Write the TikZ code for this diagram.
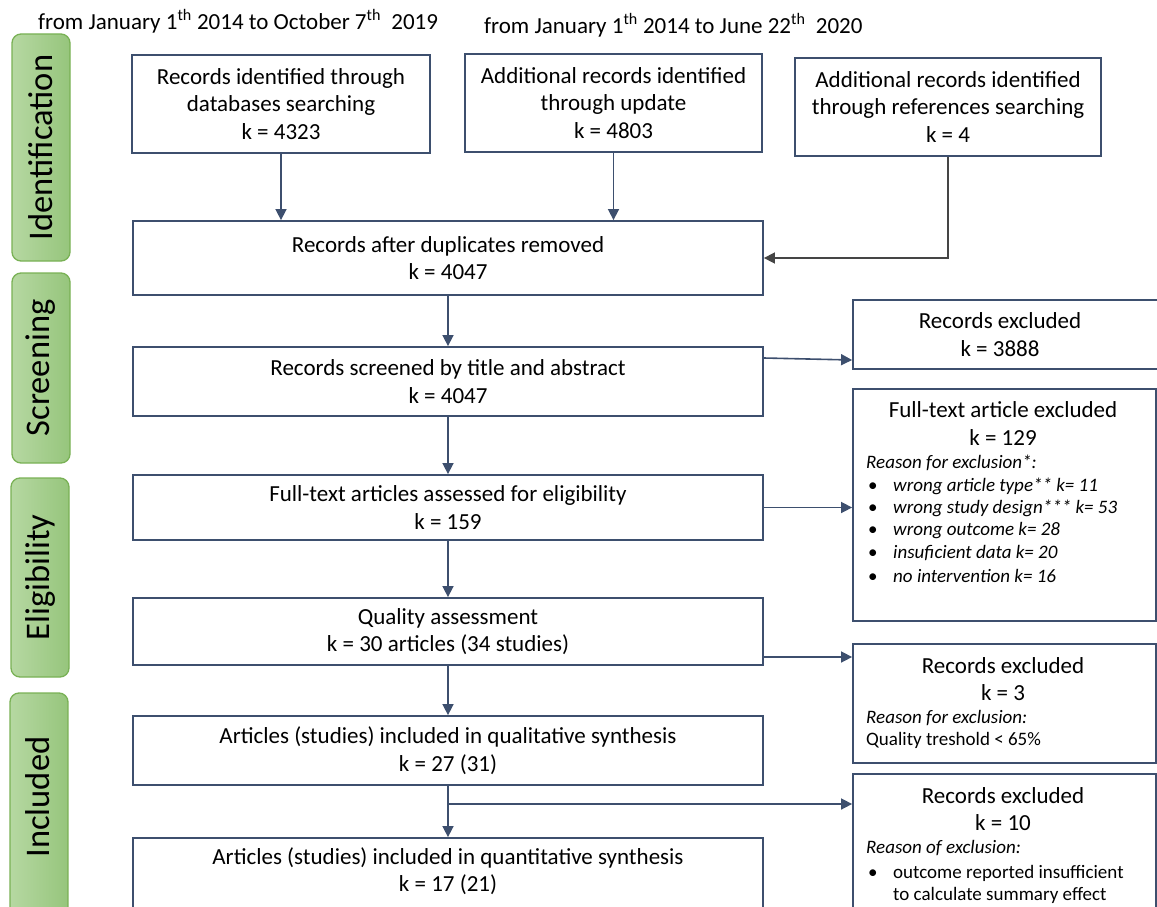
\documentclass[tikz,border=0pt]{standalone}
\usepackage{fontspec}
\setmainfont{Carlito}
\usetikzlibrary{arrows.meta}
\definecolor{boxline}{HTML}{3D4F6E}
\definecolor{greyarrow}{HTML}{454545}
\definecolor{barL}{HTML}{B6D8A2}
\definecolor{barR}{HTML}{96C57C}
\definecolor{barB}{HTML}{79B155}
\begin{document}
\begin{tikzpicture}[x=1pt,y=-1pt,
  mainbox/.style={draw=boxline, line width=1.8pt, rectangle, inner sep=0pt, align=center,
    font=\fontsize{23}{27.5}\selectfont},
  sidebar/.style={draw=barB, line width=1.3pt, rounded corners=9pt, left color=barL, right color=barR,
    inner sep=0pt, minimum width=58pt},
  sidelabel/.style={rotate=90, font=\fontsize{34.5}{38}\selectfont, inner sep=0pt},
  header/.style={font=\fontsize{23}{27}\selectfont, inner sep=0pt, anchor=west},
  ttl/.style={font=\fontsize{23}{27.5}\selectfont, inner sep=0pt, align=center},
  small/.style={font=\fontsize{19}{23}\selectfont, inner sep=0pt, anchor=base west},
  smallit/.style={small, font=\fontsize{19}{23}\selectfont\itshape},
  arr/.style={draw=boxline, line width=1.6pt, -{Triangle[length=11pt,width=11pt]}},
  greyarr/.style={draw=greyarrow, line width=1.6pt, -{Triangle[length=11pt,width=11pt]}}
]
\useasboundingbox (0,0) rectangle (1157,907);
\clip (0,0) rectangle (1157,907);

% headers
\node[header] (h1) at (38,21) {from January 1\textsuperscript{th} 2014 to October 7\textsuperscript{th}\ \ 2019};
\node[header] (h2) at (484,25) {from January 1\textsuperscript{th} 2014 to June 22\textsuperscript{th}\ \ 2020};

% side bars
\node[sidebar, minimum height=227pt] (sb1) at (41,147.5) {};
\node[sidelabel] (sl1) at (sb1) {Identification};
\node[sidebar, minimum height=190pt] (sb2) at (41,368) {};
\node[sidelabel] (sl2) at (sb2) {Screening};
\node[sidebar, minimum height=199pt] (sb3) at (40,577.5) {};
\node[sidelabel] (sl3) at (sb3) {Eligibility};
\node[sidebar, minimum height=240pt] (sb4) at (39,813) {};
\node[sidelabel] (sl4) at (38,797) {Included};

% main boxes
\node[mainbox, minimum width=298pt, minimum height=98pt] (b1) at (281,104)
  {Records identified through\\databases searching\\k = 4323};
\node[mainbox, minimum width=297pt, minimum height=98pt] (b2) at (613.5,103)
  {Additional records identified\\through update\\k = 4803};
\node[mainbox, minimum width=306pt, minimum height=98pt] (b3) at (948,107)
  {Additional records identified\\through references searching\\k = 4};
\node[mainbox, minimum width=630pt, minimum height=74pt] (b4) at (448,258)
  {Records after duplicates removed\\k = 4047};
\node[mainbox, minimum width=630pt, minimum height=69pt] (b5) at (448,381.5)
  {Records screened by title and abstract\\k = 4047};
\node[mainbox, minimum width=630pt, minimum height=65pt] (b6) at (448,507.5)
  {Full-text articles assessed for eligibility\\k = 159};
\node[mainbox, minimum width=630pt, minimum height=67pt] (b7) at (448,631.5)
  {Quality assessment\\k = 30 articles (34 studies)};
\node[mainbox, minimum width=630pt, minimum height=69pt] (b8) at (448,750.5)
  {Articles (studies) included in qualitative synthesis\\k = 27 (31)};
\node[mainbox, minimum width=630pt, minimum height=82pt] (b9) at (448,879) {};
\node[ttl] (t9) at (448,871) {Articles (studies) included in quantitative synthesis\\k = 17 (21)};

% right boxes
\node[mainbox, minimum width=309pt, minimum height=69pt] (r1) at (1007.5,334.5) {};
\node[ttl] (t1) at (1000,334.5) {Records excluded\\k = 3888};

\node[mainbox, minimum width=303pt, minimum height=232pt] (r2) at (1004.5,505) {};
\node[ttl] (t2) at (1003,423.5) {Full-text article excluded\\k = 129};
\node[smallit] (t2a) at (866,468) {Reason for exclusion*:};
\foreach \yy/\tx [count=\i] in {491/{wrong article type** k= 11},513/{wrong study design*** k= 53},535/{wrong outcome k= 28},558/{insuficient data k= 20},582/{no intervention k= 16}}{
  \node[small] (bu\i) at (868,\yy) {\textbullet};
  \node[smallit] (bt\i) at (893,\yy) {\tx};
}

\node[mainbox, minimum width=303pt, minimum height=119pt] (r3) at (1004.5,703.5) {};
\node[ttl] (t3) at (1003,679) {Records excluded\\k = 3};
\node[smallit] (t3a) at (866,723) {Reason for exclusion:};
\node[small] (t3b) at (866,745) {Quality treshold < 65\%};

\node[mainbox, minimum width=303pt, minimum height=156pt] (r4) at (1004.5,852) {};
\node[ttl] (t4) at (1003,809) {Records excluded\\k = 10};
\node[smallit] (t4a) at (866,853) {Reason of exclusion:};
\node[small] (t4b) at (868,878) {\textbullet};
\node[small] (t4c) at (893,878) {outcome reported insufficient};
\node[small] (t4d) at (893,900) {to calculate summary effect};

% connectors
\draw[arr] (b1.south) -- (b1.south |- b4.north);
\draw[arr] (b2.south) -- (b2.south |- b4.north);
\draw[greyarr] (b3.south) |- (b4.east);
\draw[arr] (b4.south) -- (b5.north);
\coordinate (c1) at (763,358);
\coordinate (c2) at (853,360);
\draw[arr] (b5.east |- c1) -- (r1.west |- c2);
\draw[arr] (b5.south) -- (b6.north);
\draw[arr] (b6.east) -- (b6.east -| r2.west);
\draw[arr] (b6.south) -- (b7.north);
\coordinate (c3) at (763,657);
\draw[arr] (b7.east |- c3) -- (r3.west |- c3);
\draw[arr] (b7.south) -- (b8.north);
\draw[arr] (b8.south) -- (b9.north);
\coordinate (br) at (448,804);
\draw[arr] (br) -- (br -| r4.west);
\end{tikzpicture}
\end{document}
